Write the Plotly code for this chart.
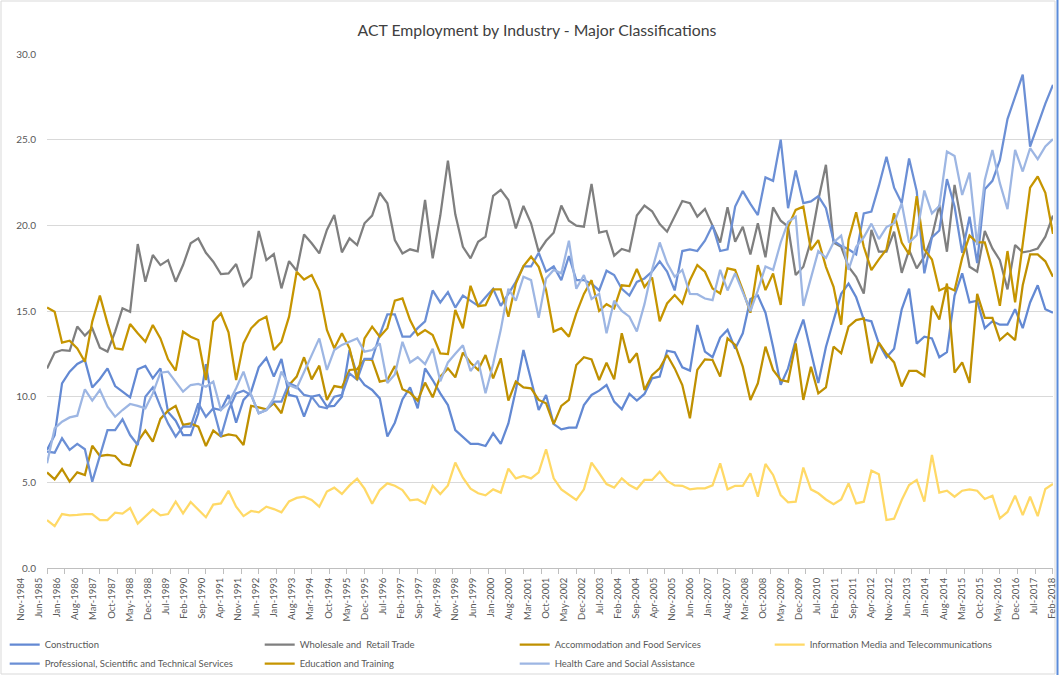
import pandas as pd
import plotly.graph_objects as go

# Quarterly observations, Nov-1984 .. Feb-2018 (134 quarters), '000 persons
quarters = pd.date_range("1984-11-01", periods=134, freq="3MS")

construction = [
    6.89, 7.76, 10.78, 11.46, 11.91, 12.14, 10.54, 11.03, 11.65, 10.62, 10.29, 9.96, 11.6, 11.79, 11.07, 11.65, 9.1, 8.6, 7.76, 7.76, 9.03, 11.9,
    9.32, 9.22, 10.1, 8.48, 9.81, 10.29, 11.71, 12.26, 11.17, 12.2, 10.1, 10.0, 8.83, 10.0, 10.1, 9.42, 9.46, 10.0, 12.72, 11.26, 10.68, 10.39, 9.9,
    7.67, 8.48, 9.84, 10.54, 9.32, 11.65, 10.97, 10.19, 9.51, 8.05, 7.67, 7.24, 7.24, 7.12, 7.86, 7.24, 8.44, 10.39, 12.72, 10.97, 9.22, 10.1,
    8.4, 8.09, 8.19, 8.19, 9.51, 10.1, 10.35, 10.68, 9.71, 9.26, 10.16, 9.77, 10.16, 11.07, 11.17, 12.68, 12.59, 11.71, 11.52, 14.18, 12.63, 12.3, 13.45,
    13.9, 12.8, 13.7, 15.7, 15.9, 14.9, 12.9, 10.7, 11.65, 13.3, 14.5, 12.7, 10.8, 12.9, 14.5, 16.0, 16.6, 15.8, 14.5, 14.4, 13.1, 12.3,
    12.8, 15.1, 16.3, 13.1, 13.5, 13.4, 12.3, 12.6, 15.9, 17.2, 15.5, 15.6, 14.0, 14.4, 14.2, 14.2, 15.1, 14.0, 15.5, 16.5, 15.1, 14.9,
]
wholesale_retail = [
    11.65, 12.57, 12.72, 12.68, 14.09, 13.56, 13.99, 12.86, 12.63, 13.8, 15.16, 14.95,
    18.91, 16.71, 18.27, 17.68, 17.97, 16.71, 17.68, 18.95, 19.24, 18.4,
    17.88, 17.15, 17.19, 17.74, 16.47, 16.96, 19.67, 17.97, 18.32, 16.32, 17.91, 17.35, 19.47, 18.95, 18.36, 19.73, 20.6, 18.42, 19.24, 18.85, 20.12, 20.57, 21.9,
    21.29, 19.14, 18.36, 18.6, 18.48, 21.48, 18.07, 20.57, 23.78, 20.64, 18.75, 18.07, 19.04, 19.34, 21.72, 22.07, 21.48, 19.82, 21.13, 20.12, 18.46, 19.1,
    19.57, 21.15, 20.27, 19.98, 19.92, 22.42, 19.57, 19.67, 18.23, 18.62, 18.48, 20.57, 21.15, 20.82, 20.08, 19.63, 20.57, 21.42, 21.29, 20.51, 20.96, 19.98, 18.99,
    21.05, 19.04, 19.92, 18.3, 20.12, 18.13, 21.05, 20.27, 19.92, 17.1, 17.58, 19.1, 21.48, 23.53, 18.99, 18.75, 17.58, 17.0, 16.02, 19.73, 18.46, 18.46,
    19.63, 17.23, 18.56, 17.49, 18.17, 19.34, 21.19, 18.46, 22.36, 20.02, 17.58, 17.29, 19.67, 18.65, 17.97, 16.26, 18.85, 18.42, 18.5, 18.65, 19.34, 20.57,
]
accommodation_food = [
    5.58, 5.18, 5.78, 5.04, 5.58, 5.43, 7.14, 6.54, 6.6, 6.54, 6.07, 5.97, 7.37, 8.02, 7.37, 8.7, 9.18, 9.46, 8.35, 8.44, 8.25, 7.12,
    8.02, 7.67, 7.8, 7.72, 7.18, 9.46, 9.38, 9.26, 9.61, 9.03, 10.68, 11.17, 12.3, 11.01, 11.81, 9.81, 10.62, 10.54, 11.56, 11.6, 12.18, 12.14, 10.88,
    10.97, 11.79, 10.43, 10.23, 9.77, 10.82, 9.96, 11.17, 11.65, 11.13, 12.57, 11.98, 11.56, 12.43, 11.07, 12.24, 9.77, 10.88, 10.54, 10.49, 9.81, 9.61,
    8.4, 9.46, 9.81, 11.85, 12.3, 12.18, 10.97, 11.98, 11.01, 13.7, 11.98, 12.53, 10.39, 11.26, 11.65, 12.43, 11.65, 10.68, 8.74, 11.56, 12.18, 12.14, 11.17,
    13.4, 13.02, 11.75, 9.81, 10.78, 12.92, 11.56, 10.97, 10.88, 13.11, 9.81, 11.75, 10.19, 10.54, 12.92, 12.53, 14.09, 14.47, 14.57, 11.95, 13.15, 12.5,
    12.0, 10.6, 11.5, 11.5, 11.2, 15.3, 14.5, 16.6, 11.4, 12.0, 10.8, 16.0, 14.6, 14.6, 13.3, 13.7, 13.3, 16.5, 18.3, 18.3, 17.9, 17.0,
]
info_media_telecom = [
    2.8, 2.45, 3.15, 3.07, 3.1, 3.15, 3.15, 2.8, 2.8, 3.23, 3.17, 3.5, 2.59, 3.0, 3.42, 3.07, 3.15, 3.87, 3.19, 3.85, 3.42, 2.96,
    3.7, 3.77, 4.51, 3.58, 3.03, 3.33, 3.25, 3.58, 3.44, 3.25, 3.89, 4.09, 4.16, 3.97, 3.58, 4.46, 4.69, 4.32, 4.82, 5.21, 4.63, 3.75, 4.55,
    4.94, 4.8, 4.55, 3.95, 4.0, 3.75, 4.8, 4.32, 4.82, 6.15, 5.27, 4.63, 4.36, 4.24, 4.59, 4.4, 5.8, 5.23, 5.37, 5.23, 5.58, 6.93,
    5.23, 4.59, 4.28, 3.97, 4.59, 6.15, 5.53, 4.9, 4.69, 5.23, 4.84, 4.61, 5.14, 5.14, 5.62, 5.08, 4.82, 4.8, 4.59, 4.65, 4.65, 4.82, 6.11,
    4.59, 4.8, 4.8, 5.53, 4.16, 6.07, 5.43, 4.26, 3.83, 3.87, 5.86, 4.59, 4.36, 4.0, 3.73, 4.0, 4.94, 3.77, 3.87, 5.68, 5.47, 2.8,
    2.88, 3.97, 4.84, 5.14, 3.87, 6.6, 4.4, 4.51, 4.16, 4.51, 4.59, 4.51, 4.03, 4.22, 2.9, 3.27, 4.22, 3.09, 4.16, 3.03, 4.61, 4.9,
]
professional_sci_tech = [
    6.79, 6.73, 7.57, 6.89, 7.24, 6.93, 5.04, 6.54, 8.05, 8.05, 8.68, 7.76, 7.18, 10.0, 10.54, 9.42, 8.44, 7.67, 8.25, 8.25, 9.61, 8.83,
    9.32, 7.67, 9.22, 10.19, 10.35, 10.1, 9.03, 9.22, 9.71, 9.71, 10.78, 10.58, 10.1, 10.0, 9.42, 9.32, 10.0, 10.1, 11.36, 11.0, 12.2, 12.2, 13.6,
    14.8, 14.8, 13.5, 13.5, 14.0, 14.4, 16.2, 15.5, 16.1, 15.2, 15.9, 15.6, 15.3, 15.8, 16.3, 15.3, 16.0, 16.7, 17.6, 17.6, 18.4, 17.3,
    17.6, 16.8, 18.2, 16.8, 16.8, 16.6, 16.2, 17.35, 17.1, 16.3, 15.9, 16.7, 16.9, 17.3, 17.9, 17.3, 16.2, 18.5, 18.6, 18.5, 19.1, 20.0, 18.5,
    18.6, 21.1, 22.0, 21.25, 20.6, 22.8, 22.6, 25.0, 21.0, 23.2, 21.3, 21.4, 21.7, 21.0, 19.1, 18.8, 18.6, 18.3, 20.7, 20.8, 22.3, 24.0,
    22.2, 21.3, 23.9, 22.0, 17.2, 19.3, 19.7, 22.7, 21.1, 18.4, 20.5, 17.8, 22.1, 22.6, 23.8, 26.2, 27.5, 28.8, 24.6, 25.9, 27.1, 28.2,
]
education_training = [
    15.2, 14.96, 13.15, 13.27, 12.82, 12.04, 14.38, 15.9, 14.28, 12.82, 12.76, 14.24, 13.7, 13.21, 14.18, 13.4, 12.18, 11.52, 13.79, 13.5, 13.31, 10.97,
    14.38, 14.86, 13.75, 10.97, 13.11, 13.99, 14.44, 14.67, 12.72, 13.21, 14.67, 17.29, 16.84, 17.1, 16.18, 13.89, 12.82, 13.7, 12.82, 10.97, 13.4, 14.09, 13.5,
    14.0, 15.6, 15.73, 14.47, 13.6, 13.89, 13.6, 12.53, 12.49, 15.06, 13.99, 16.47, 15.28, 15.34, 16.26, 16.26, 14.67, 16.6, 17.62, 18.17, 17.58, 16.22,
    13.8, 14.0, 13.5, 14.86, 16.0, 16.8, 15.0, 15.4, 15.15, 16.5, 16.45, 17.45, 16.4, 16.96, 14.4, 15.44, 15.93, 15.44, 16.8, 17.68, 17.29, 16.32, 16.02,
    17.49, 17.39, 16.22, 14.9, 17.68, 16.22, 17.19, 15.35, 19.92, 20.9, 21.09, 18.56, 19.14, 17.58, 16.41, 14.2, 19.14, 20.76, 18.75, 17.39, 18.01, 18.6,
    20.7, 19.0, 18.3, 21.7, 18.6, 18.0, 16.2, 16.4, 16.2, 18.1, 19.4, 19.0, 19.0, 17.4, 15.3, 18.5, 15.5, 19.0, 22.2, 22.85, 21.9, 19.5,
]
health_social = [
    6.11, 8.15, 8.54, 8.79, 8.89, 10.43, 9.77, 10.39, 9.42, 8.83, 9.22, 9.57, 9.46, 9.32, 10.19, 11.4, 11.46, 10.88, 10.29, 10.68, 10.74, 10.58,
    10.88, 9.22, 9.61, 10.49, 11.46, 10.1, 9.03, 9.22, 9.9, 11.46, 10.68, 10.49, 11.46, 12.43, 13.4, 11.56, 12.72, 13.02, 13.21, 13.4, 12.63, 12.72, 13.11,
    10.8, 11.3, 13.2, 12.0, 12.3, 11.9, 12.8, 10.9, 12.0, 12.5, 13.0, 11.5, 12.1, 10.2, 11.9, 13.9, 16.3, 15.6, 17.0, 16.8, 14.6, 16.9,
    17.4, 17.2, 19.1, 16.3, 17.1, 15.7, 16.0, 13.7, 15.6, 15.0, 14.67, 13.8, 15.4, 17.4, 19.0, 17.8, 17.0, 17.4, 16.0, 15.98, 15.73, 15.63, 17.4,
    16.2, 17.2, 16.1, 15.0, 16.2, 17.6, 17.4, 19.0, 20.2, 20.5, 15.3, 17.0, 18.5, 18.1, 19.0, 19.4, 17.4, 18.75, 19.3, 20.1, 19.2, 19.9,
    20.12, 21.29, 18.99, 19.43, 22.03, 20.7, 21.13, 24.31, 24.05, 21.77, 23.08, 18.85, 22.65, 24.4, 22.46, 20.94, 24.4, 23.14, 24.5, 23.86, 24.6, 25.03,
]

series_names = [
    "Construction",
    "Wholesale and\u00a0 Retail Trade",
    "Accommodation and Food Services",
    "Information Media and Telecommunications",
    "Professional, Scientific and Technical Services",
    "Education and Training",
    "Health Care and Social Assistance",
]
series_values = [construction, wholesale_retail, accommodation_food, info_media_telecom,
                 professional_sci_tech, education_training, health_social]
series_colors = ["#6389D3", "#7F7F7F", "#BF9000", "#FFD966", "#6B8FD5", "#C69500", "#9DB6E3"]

# axis labels: every 7 months from Nov-1984 to Feb-2018
tick_dates = pd.date_range("1984-11-01", "2018-02-01", freq="7MS")
tick_text = [d.strftime("%b-%Y") for d in tick_dates]
label_slots = list(range(len(tick_text)))

fig = go.Figure()
for name, vals, col in zip(series_names, series_values, series_colors):
    fig.add_trace(go.Scatter(x=quarters, y=vals, name=name, mode="lines",
                             line=dict(color=col, width=2.25)))
# carrier for the category-label axis (no visible marks)
fig.add_trace(go.Scatter(x=[label_slots[0], label_slots[-1]], y=[None, None], xaxis="x2", yaxis="y2",
                         mode="lines", showlegend=False, hoverinfo="skip"))

font_family = "Lato, 'Open Sans', Arial, sans-serif"
L, R, T, B = 11, 6, 54, 107
W, H = 1059, 675
PW, PH = W - L - R, H - T - B


def px_x(p):
    return (p - L) / PW


def px_y(p):
    return 1 - (p - T) / PH


fig.update_layout(
    width=W, height=H,
    margin=dict(l=L, r=R, t=T, b=B, autoexpand=False),
    paper_bgcolor="white", plot_bgcolor="rgba(0,0,0,0)",
    font=dict(family=font_family, color="#595959"),
    title=dict(text="ACT Employment by Industry - Major Classifications",
               x=537 / W, xref="container", xanchor="center",
               y=1 - 30 / H, yref="container", yanchor="middle",
               font=dict(size=15.8, color="#404040", family=font_family)),
    legend=dict(orientation="h", x=px_x(4.7), xanchor="left", y=px_y(630), yanchor="top",
                entrywidth=210, entrywidthmode="pixels", tracegroupgap=0,
                font=dict(size=9.5, color="#595959"), itemwidth=30,
                bgcolor="rgba(0,0,0,0)"),
    showlegend=True,
    xaxis=dict(
        type="date", domain=[px_x(47), 1], anchor="y",
        range=[quarters[0] - pd.Timedelta(hours=12), quarters[-1] + pd.Timedelta(hours=12)],
        tickmode="array", tickvals=tick_dates, showticklabels=False,
        showgrid=False, showline=True, linecolor="#BFBFBF", linewidth=1,
        ticks="outside", ticklen=5, tickcolor="#BFBFBF", zeroline=False, automargin=False,
    ),
    yaxis=dict(
        range=[0, 30], dtick=5, tick0=0, tickformat=".1f", anchor="x",
        tickfont=dict(size=10, color="#595959"), automargin=False,
        showgrid=True, gridcolor="#D9D9D9", gridwidth=1, zeroline=False,
        showline=False, ticks="", ticklabelstandoff=10,
    ),
    xaxis2=dict(
        domain=[0, 1], anchor="y2",
        range=[-(21 - L) / 18.088, -(21 - L) / 18.088 + PW / 18.088],
        tickmode="array", tickvals=label_slots, ticktext=tick_text, tickangle=-90,
        tickfont=dict(size=9.5, color="#595959"),
        ticks="outside", ticklen=5, tickcolor="rgba(0,0,0,0)",
        showgrid=False, showline=False, zeroline=False, automargin=False,
    ),
    yaxis2=dict(domain=[0, 1], anchor="x2", range=[0, 1], visible=False),
)

# chart-area border and the blue selection edge at the right of the reference
fig.add_shape(type="rect", xref="paper", yref="paper",
              x0=px_x(1), x1=px_x(1055), y0=px_y(674), y1=px_y(1),
              line=dict(color="#D9D9D9", width=1), fillcolor="rgba(0,0,0,0)", layer="below")
fig.add_shape(type="line", xref="paper", yref="paper",
              x0=px_x(1057.5), x1=px_x(1057.5), y0=px_y(675), y1=px_y(0),
              line=dict(color="#5B8BD9", width=2))

fig.write_html("out.html", config={"displayModeBar": False},
               post_script="document.body.style.margin='0';")
